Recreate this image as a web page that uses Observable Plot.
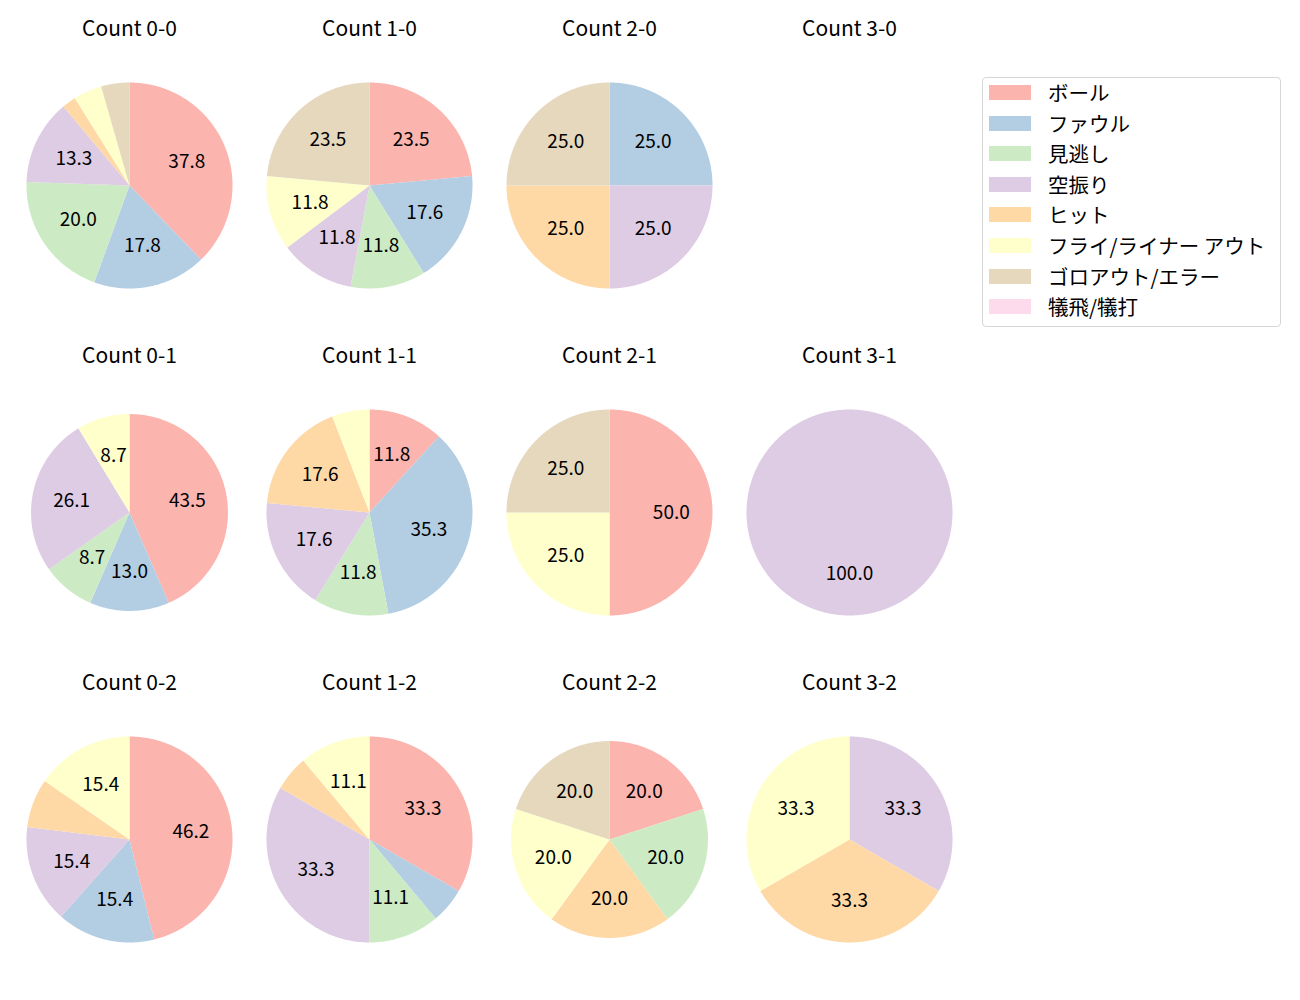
<!DOCTYPE html>
<html>
<head>
<meta charset="utf-8">
<script src="https://cdn.jsdelivr.net/npm/d3@7"></script>
<script src="https://cdn.jsdelivr.net/npm/@observablehq/plot@0.6"></script>
<style>
  body { margin: 0; background: #fff; font-family: "Noto Sans CJK JP", "Noto Sans", sans-serif; }
  #wrap { position: relative; width: 1300px; height: 1000px; overflow: hidden; }
  #chart { position: absolute; left: 0; top: 0; }
  #legend {
    position: absolute; left: 982px; top: 77px; width: 297px; height: 248px;
    border: 1px solid #d6d6d6; border-radius: 4px; background: #fff; box-sizing: content-box;
  }
  .lg-row { position: absolute; left: 0; height: 30px; }
  .lg-sw { position: absolute; left: 6px; width: 42px; height: 15px; }
  .lg-tx { position: absolute; left: 65px; font-size: 20.5px; line-height: 20.5px; color: #000; white-space: nowrap; }
</style>
</head>
<body>
<div id="wrap"><div id="chart"></div><div id="legend"></div></div>
<script>
// ---- data ----
const categories = ["ボール", "ファウル", "見逃し", "空振り", "ヒット", "フライ/ライナー アウト", "ゴロアウト/エラー", "犠飛/犠打"];
const colors = ["#fbb4ae", "#b3cde3", "#ccebc5", "#decbe4", "#fed9a6", "#ffffcc", "#e5d8bd", "#fddaec"];
const balls = [0, 1, 2, 3];
const strikes = [0, 1, 2];
// pitch counts per category (order as in categories), for each count "balls-strikes"
const count_0_0 = [17, 8, 9, 6, 1, 2, 2, 0];
const count_1_0 = [4, 3, 2, 2, 0, 2, 4, 0];
const count_2_0 = [0, 1, 0, 1, 1, 0, 1, 0];
const count_3_0 = [0, 0, 0, 0, 0, 0, 0, 0];
const count_0_1 = [10, 3, 2, 6, 0, 2, 0, 0];
const count_1_1 = [2, 6, 2, 3, 3, 1, 0, 0];
const count_2_1 = [2, 0, 0, 0, 0, 1, 1, 0];
const count_3_1 = [0, 0, 0, 1, 0, 0, 0, 0];
const count_0_2 = [6, 2, 0, 2, 1, 2, 0, 0];
const count_1_2 = [6, 1, 2, 6, 1, 2, 0, 0];
const count_2_2 = [1, 0, 1, 0, 1, 1, 1, 0];
const count_3_2 = [0, 0, 0, 1, 1, 1, 0, 0];

const countTable = {
  "0-0": count_0_0, "1-0": count_1_0, "2-0": count_2_0, "3-0": count_3_0,
  "0-1": count_0_1, "1-1": count_1_1, "2-1": count_2_1, "3-1": count_3_1,
  "0-2": count_0_2, "1-2": count_1_2, "2-2": count_2_2, "3-2": count_3_2
};

// ---- style / layout ----
const R = 103;                 // pie radius in px
const cellW = 220, cellH = 300;
const XR = cellW / 2 / R, YR = cellH / 2 / R;
const panelScale = {"0-1": 0.956, "2-2": 0.956};
const labelDist = 0.6;
const minLabelPct = 8;

// ---- build wedge geometry from data ----
const wedgePts = [];
const labels = [];
const panels = [];
for (const s of strikes) {
  for (const b of balls) {
    const key = `${b}-${s}`;
    panels.push({b, s, title: `Count ${key}`});
    const vals = countTable[key];
    const total = d3.sum(vals);
    if (total === 0) continue;
    const r = panelScale[key] ?? 1;
    let cum = 0;
    vals.forEach((v, i) => {
      if (v === 0) return;
      const t0 = cum / total * 2 * Math.PI;
      cum += v;
      const t1 = cum / total * 2 * Math.PI;
      const id = `${key}-${i}`;
      const full = v === total;
      if (!full) wedgePts.push({id, b, s, cat: categories[i], x: 0, y: 0});
      const n = Math.max(2, Math.ceil((t1 - t0) / (Math.PI / 360)));
      for (let k = 0; k <= n; k++) {
        const t = t0 + (t1 - t0) * k / n;
        wedgePts.push({id, b, s, cat: categories[i], x: r * Math.sin(t), y: r * Math.cos(t)});
      }
      const pct = v / total * 100;
      const tm = (t0 + t1) / 2;
      if (pct >= minLabelPct) {
        labels.push({b, s, x: labelDist * r * Math.sin(tm), y: labelDist * r * Math.cos(tm), text: pct.toFixed(1)});
      }
    });
  }
}

const chart = Plot.plot({
  width: 1300,
  height: 1000,
  marginLeft: 19,
  marginRight: 341,
  marginTop: 35,
  marginBottom: 11,
  style: {fontFamily: '"Noto Sans CJK JP", "Noto Sans", sans-serif', color: "#000", background: "#fff"},
  fx: {domain: balls, axis: null, paddingInner: 20 / 240, paddingOuter: 0, align: 0.5},
  fy: {domain: strikes, axis: null, paddingInner: 27 / 327, paddingOuter: 0, align: 0.5},
  x: {domain: [-XR, XR], axis: null},
  y: {domain: [-YR, YR], axis: null},
  color: {domain: categories, range: colors},
  marks: [
    Plot.line(wedgePts, {
      x: "x", y: "y", z: "id", fx: "b", fy: "s",
      fill: "cat", stroke: "none", curve: "linear-closed"
    }),
    Plot.text(labels, {
      x: "x", y: "y", fx: "b", fy: "s", text: "text",
      fontSize: 19, fill: "#000", textAnchor: "middle", lineAnchor: "middle"
    }),
    Plot.text(panels, {
      fx: "b", fy: "s", text: "title", frameAnchor: "top", dy: -6,
      fontSize: 21, fill: "#000", textAnchor: "middle", lineAnchor: "middle"
    })
  ]
});
document.getElementById("chart").appendChild(chart);

// ---- legend ----
const legend = d3.select("#legend");
categories.forEach((c, i) => {
  const row = legend.append("div").attr("class", "lg-row").style("top", `${7 + i * 30.6}px`);
  row.append("div").attr("class", "lg-sw").style("background", colors[i]);
  row.append("div").attr("class", "lg-tx").style("top", "-3px").text(c);
});
</script>
</body>
</html>
